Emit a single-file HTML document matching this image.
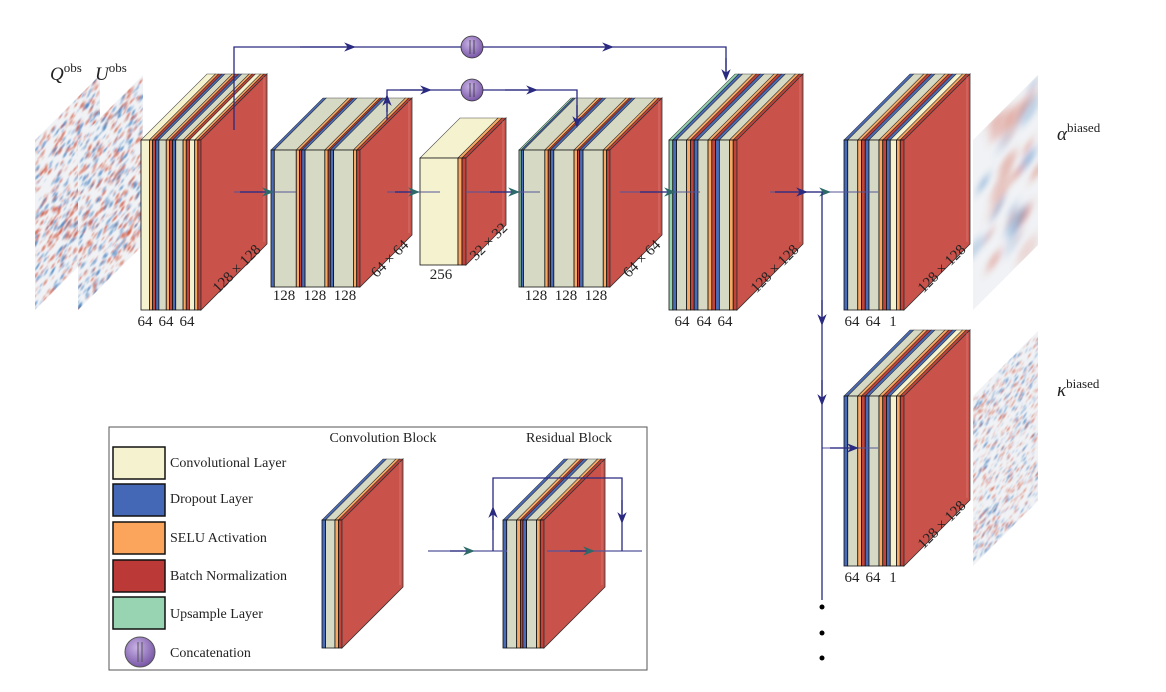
<!DOCTYPE html>
<html><head><meta charset="utf-8"><style>
html,body{margin:0;padding:0;background:#fff}
svg{display:block}
text{font-family:"Liberation Serif",serif;fill:#222}
</style></head><body>
<svg id="s" width="1166" height="692" viewBox="0 0 1166 692" xmlns="http://www.w3.org/2000/svg">
<defs>
<marker id="ar" viewBox="0 0 10 10" refX="5" refY="5" markerWidth="9" markerHeight="9" orient="auto"><path d="M0,1 L10,5 L0,9 L3,5z" fill="#2a2a80"/></marker>
<marker id="at" viewBox="0 0 10 10" refX="5" refY="5" markerWidth="9" markerHeight="9" orient="auto"><path d="M0,1 L10,5 L0,9 L3,5z" fill="#2e6a6a"/></marker>
<radialGradient id="pg" cx="40%" cy="35%" r="65%"><stop offset="0" stop-color="#c9b3e6"/><stop offset="1" stop-color="#7a58a8"/></radialGradient>
<filter id="bl1" x="-10%" y="-10%" width="120%" height="120%"><feGaussianBlur stdDeviation="0.9"/></filter>
<filter id="bl2" x="-10%" y="-10%" width="120%" height="120%"><feGaussianBlur stdDeviation="4"/></filter>
</defs>
<g id="imgs"></g>
<g id="blocks"></g>
<g id="lines" fill="none" stroke="#2a2a80" stroke-width="1.3">
<path d="M234,130 V47 H726 V75"/>
<line x1="300" y1="47" x2="350" y2="47" marker-end="url(#ar)"/>
<line x1="560" y1="47" x2="608" y2="47" marker-end="url(#ar)"/>
<path d="M387,112 V90 H577 V125"/>
<line x1="400" y1="90" x2="426" y2="90" marker-end="url(#ar)"/>
<line x1="505" y1="90" x2="532" y2="90" marker-end="url(#ar)"/>
<line x1="387" y1="120" x2="387" y2="100" marker-end="url(#ar)"/>
<line x1="577" y1="105" x2="577" y2="122" marker-end="url(#ar)"/>
<line x1="726" y1="58" x2="726" y2="75" marker-end="url(#ar)"/>
<g stroke="#55559a" stroke-opacity="0.8">
<line x1="234" y1="192" x2="296" y2="192"/><line x1="387" y1="192" x2="440" y2="192"/>
<line x1="466" y1="192" x2="540" y2="192"/><line x1="620" y1="192" x2="700" y2="192"/>
<line x1="770" y1="192" x2="878" y2="192"/><line x1="822" y1="448" x2="878" y2="448"/>
</g>
<line x1="240" y1="192" x2="268" y2="192" marker-end="url(#at)"/>
<line x1="395" y1="192" x2="414" y2="192" marker-end="url(#at)"/>
<line x1="490" y1="192" x2="514" y2="192" marker-end="url(#at)"/>
<line x1="640" y1="192" x2="670" y2="192" marker-end="url(#at)"/>
<line x1="775" y1="192" x2="802" y2="192" marker-end="url(#ar)"/>
<line x1="805" y1="192" x2="825" y2="192" marker-end="url(#at)"/>
<line x1="830" y1="448" x2="853" y2="448" marker-end="url(#ar)"/>
<path d="M822,192 V600"/>
<line x1="822" y1="300" x2="822" y2="320" marker-end="url(#ar)"/>
<line x1="822" y1="380" x2="822" y2="400" marker-end="url(#ar)"/>
<line x1="428" y1="551" x2="507" y2="551" stroke="#55559a"/>
<line x1="547" y1="551" x2="642" y2="551" stroke="#55559a"/>
<line x1="450" y1="551" x2="469" y2="551" marker-end="url(#at)"/>
<line x1="570" y1="551" x2="589" y2="551" marker-end="url(#at)"/>
<path d="M493,551 V478 H622 V551"/>
<line x1="493" y1="530" x2="493" y2="512" marker-end="url(#ar)"/>
<line x1="622" y1="500" x2="622" y2="518" marker-end="url(#ar)"/>
</g>
<g stroke="#333" stroke-width="0.8">
<circle cx="472" cy="47" r="11" fill="url(#pg)"/><line x1="470" y1="40" x2="470" y2="54"/><line x1="474" y1="40" x2="474" y2="54"/>
<circle cx="472" cy="90" r="11" fill="url(#pg)"/><line x1="470" y1="83" x2="470" y2="97"/><line x1="474" y1="83" x2="474" y2="97"/>
</g>
<circle cx="822" cy="607" r="2.5" fill="#000"/><circle cx="822" cy="633" r="2.5" fill="#000"/><circle cx="822" cy="658" r="2.5" fill="#000"/>
<rect x="109" y="427" width="538" height="243" fill="none" stroke="#555" stroke-width="1"/>
<g stroke="#111" stroke-width="1.5">
<rect x="113" y="447" width="52" height="32" fill="#f5f3cf"/>
<rect x="113" y="484" width="52" height="32" fill="#4468b6"/>
<rect x="113" y="522" width="52" height="32" fill="#fba55c"/>
<rect x="113" y="560" width="52" height="32" fill="#bb3a38"/>
<rect x="113" y="597" width="52" height="32" fill="#98d4b2"/>
</g>
<circle cx="140" cy="652" r="15" fill="url(#pg)" stroke="#555"/><line x1="138" y1="642" x2="138" y2="662" stroke="#555"/><line x1="142" y1="642" x2="142" y2="662" stroke="#555"/>
<g font-size="14">
<text x="170" y="467">Convolutional Layer</text>
<text x="170" y="503">Dropout Layer</text>
<text x="170" y="542">SELU Activation</text>
<text x="170" y="580">Batch Normalization</text>
<text x="170" y="618">Upsample Layer</text>
<text x="170" y="657">Concatenation</text>
<text x="383" y="442" text-anchor="middle">Convolution Block</text>
<text x="569" y="442" text-anchor="middle">Residual Block</text>
</g>
<g font-size="15" text-anchor="middle">
<text x="145" y="326">64</text><text x="166" y="326">64</text><text x="187" y="326">64</text>
<text x="284" y="300">128</text><text x="315" y="300">128</text><text x="345" y="300">128</text>
<text x="441" y="279">256</text>
<text x="536" y="300">128</text><text x="566" y="300">128</text><text x="596" y="300">128</text>
<text x="682" y="326">64</text><text x="704" y="326">64</text><text x="725" y="326">64</text>
<text x="852" y="326">64</text><text x="873" y="326">64</text><text x="893" y="326">1</text>
<text x="852" y="582">64</text><text x="873" y="582">64</text><text x="893" y="582">1</text>
<text transform="translate(240,272) rotate(-45)">128 × 128</text>
<text transform="translate(393,262) rotate(-45)">64 × 64</text>
<text transform="translate(492,245) rotate(-45)">32 × 32</text>
<text transform="translate(645,262) rotate(-45)">64 × 64</text>
<text transform="translate(778,272) rotate(-45)">128 × 128</text>
<text transform="translate(945,272) rotate(-45)">128 × 128</text>
<text transform="translate(945,528) rotate(-45)">128 × 128</text>
</g>
<g font-size="19" font-style="italic">
<text x="50" y="80">Q<tspan font-size="13" font-style="normal" dy="-8">obs</tspan></text>
<text x="95" y="80">U<tspan font-size="13" font-style="normal" dy="-8">obs</tspan></text>
<text x="1057" y="140">α<tspan font-size="13" font-style="normal" dy="-8">biased</tspan></text>
<text x="1057" y="396">κ<tspan font-size="13" font-style="normal" dy="-8">biased</tspan></text>
</g>
</svg>
<script>
var NS="http://www.w3.org/2000/svg";
function el(p,t,a){var e=document.createElementNS(NS,t);for(var k in a)e.setAttribute(k,a[k]);p.appendChild(e);return e;}
var C={Y:'#f5f3cf',G:'#d6dac4',B:'#4a6cb8',O:'#f8a964',R:'#c0433c',N:'#94d3b0'};
function block(x0,y0,h,W,d,pat){
 var g=document.getElementById('blocks');var sum=0;pat.forEach(function(p){sum+=p[1]});
 var k=W/sum,x=x0,st=[];
 pat.forEach(function(p){var w=p[1]*k;st.push([x,w,C[p[0]]]);x+=w;});
 st.forEach(function(s){el(g,'polygon',{points:[s[0],y0,s[0]+s[1],y0,s[0]+s[1]+d,y0-d,s[0]+d,y0-d].join(' '),fill:s[2],stroke:'#222','stroke-width':0.6,'stroke-opacity':0.8});});
 st.forEach(function(s){el(g,'rect',{x:s[0],y:y0,width:s[1],height:h,fill:s[2],stroke:'#111','stroke-width':0.8});});
 var xr=x0+W;
 el(g,'polygon',{points:[xr,y0,xr+d,y0-d,xr+d,y0-d+h,xr,y0+h].join(' '),fill:'#c9524a',stroke:'#333','stroke-width':0.8});
 el(g,'line',{x1:xr+d-3,y1:y0-d+3,x2:xr+d-3,y2:y0-d+h-2,stroke:'#e08a84','stroke-width':0.6});
}
var u1=[['Y',8],['O',3],['R',3],['B',3],['G',7],['O',3],['R',3],['B',3],['G',7],['O',3],['R',3],['Y',5],['O',3],['R',3]];
block(141,140,170,60,66,u1);
var u2=[['B',3],['G',20],['O',3],['R',2],['B',3],['G',18],['O',3],['R',2],['B',3],['G',18],['O',3],['R',3]];
block(271,150,137,89,52,u2);
block(420,158,107,46,40,[['Y',38],['O',4],['R',4]]);
var u4=[['N',2],['B',2],['G',19],['O',3],['R',2],['B',3],['G',18],['O',3],['R',2],['B',3],['G',18],['O',3],['R',3]];
block(519,150,137,91,52,u4);
var u5=[['N',3],['B',3],['G',8],['O',3],['R',3],['B',3],['G',8],['O',3],['R',3],['B',3],['G',8],['O',3],['R',3]];
block(669,140,170,68,66,u5);
var u6=[['B',3],['G',8],['O',3],['R',3],['B',3],['G',8],['O',3],['R',3],['B',3],['Y',5],['O',3],['R',3]];
block(844,140,170,60,66,u6);
block(844,396,170,60,66,u6);
block(322,520,128,20,61,[['B',3],['G',8],['O',3],['R',3]]);
block(503,520,128,41,61,[['B',3],['G',8],['O',3],['R',2],['B',3],['G',8],['O',3],['R',3]]);
var ig=document.getElementById('imgs');
var seed=7;function rnd(){seed=(seed*16807)%2147483647;return seed/2147483647;}
function heat(x,y,n,sz,op,f){
 var g=el(ig,'g',{transform:'matrix(1,-1,0,1,'+x+','+y+')'});
 var cp=el(g,'clipPath',{id:'c'+x+y});el(cp,'rect',{x:0,y:0,width:65,height:170});
 el(g,'rect',{x:0,y:0,width:65,height:170,fill:'#f0f2f5'});
 var h=el(g,'g',{'clip-path':'url(#c'+x+y+')'});
 var hh=el(h,'g',{filter:'url(#'+f+')'});
 for(var i=0;i<n;i++){el(hh,'circle',{cx:rnd()*65,cy:rnd()*170,r:sz*(0.5+rnd()),fill:rnd()<0.5?'#d0553c':'#3f7fbf','fill-opacity':op*(0.3+rnd()*0.7)});}
}
heat(35,140,700,1.6,0.7,'bl1');heat(78,140,700,1.6,0.7,'bl1');
heat(973,140,30,8,0.45,'bl2');heat(973,396,900,1.2,0.6,'bl1');
</script>
</body></html>
